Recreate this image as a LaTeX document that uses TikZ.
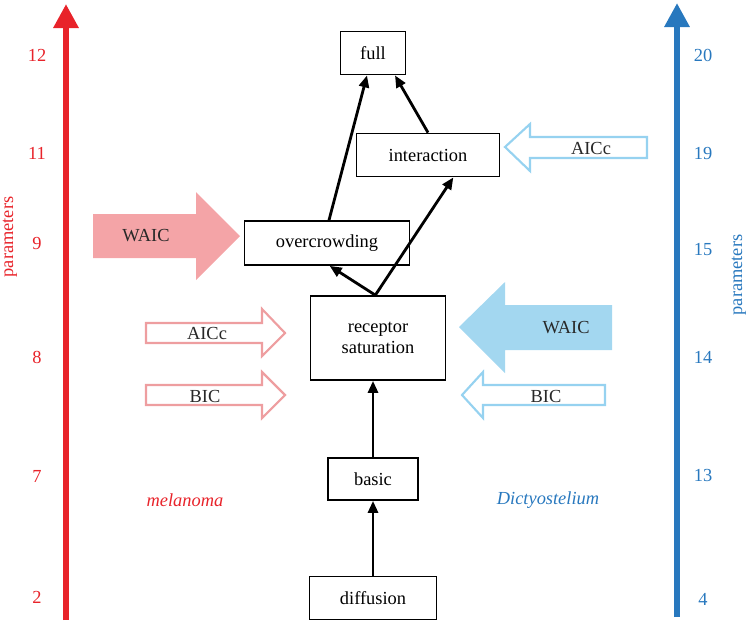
\documentclass[tikz,border=0pt]{standalone}
\usepackage{fontspec}
\setmainfont{Liberation Serif}
\usetikzlibrary{arrows.meta}

\definecolor{melred}{RGB}{232,35,42}
\definecolor{dictyblue}{RGB}{40,120,190}
\definecolor{palered}{RGB}{244,164,167}
\definecolor{paleblue}{RGB}{163,215,240}
\definecolor{linered}{RGB}{238,158,160}
\definecolor{lineblue}{RGB}{150,210,240}
\definecolor{labelgray}{RGB}{40,40,40}

\tikzset{
  model/.style={draw, line width=1.3pt, inner sep=0pt, align=center},
  link/.style={-{Triangle[length=9pt,width=7.5pt]}, line width=2.1pt},
  axis/.style={line width=4.5pt, -{Triangle[length=18pt,width=18pt]}},
  hollow/.style={line width=1.6pt, fill=white}
}

\begin{document}
\begin{tikzpicture}[x=0.75pt,y=-0.75pt,font=\fontsize{13.8}{16}\selectfont]
  \useasboundingbox (0,0) rectangle (748,622);

  % parameter axes
  \coordinate (redbot) at (66,620);
  \coordinate (redtop) at (66,4);
  \coordinate (bluebot) at (677,617);
  \coordinate (bluetop) at (677,3);
  \draw[axis, melred] (redbot) -- (redtop);
  \draw[axis, dictyblue] (bluebot) -- (bluetop);

  \begin{scope}[every node/.style={text=melred}]
    \node (r12) at (37,55)  {12};
    \node (r11) at (37,153) {11};
    \node (r9)  at (37,243) {9};
    \node (r8)  at (37,357) {8};
    \node (r7)  at (37,476) {7};
    \node (r2)  at (37,597) {2};
    \node[rotate=90, inner sep=1pt] (rpar) at (10,237) {parameters};
    \node[font=\fontsize{13.8}{16}\selectfont\itshape] (mel) at (185,500) {melanoma};
  \end{scope}

  \begin{scope}[every node/.style={text=dictyblue}]
    \node (b20) at (703,55)  {20};
    \node (b19) at (703,153) {19};
    \node (b15) at (703,250) {15};
    \node (b14) at (703,357) {14};
    \node (b13) at (703,475) {13};
    \node (b4)  at (703,599) {4};
    \node[rotate=90, inner sep=1pt] (bpar) at (739,275) {parameters};
    \node[font=\fontsize{13.8}{16}\selectfont\itshape] (dic) at (548,500) {Dictyostelium};
  \end{scope}

  % criteria arrows
  \fill[palered] (93,214) -- (196,214) -- (196,192) -- (240,236) -- (196,280) -- (196,258) -- (93,258) -- cycle;
  \draw[hollow, draw=linered] (146,323) -- (262,323) -- (262,309) -- (285,333) -- (262,356) -- (262,343) -- (146,343) -- cycle;
  \draw[hollow, draw=linered] (146,385) -- (262,385) -- (262,372) -- (285,395) -- (262,418) -- (262,405) -- (146,405) -- cycle;
  \fill[paleblue] (612,305) -- (505,305) -- (505,282) -- (459,327) -- (505,373) -- (505,350) -- (612,350) -- cycle;
  \draw[hollow, draw=lineblue] (605,385) -- (483,385) -- (483,372) -- (462,395) -- (483,418) -- (483,405) -- (605,405) -- cycle;
  \draw[hollow, draw=lineblue] (647,137) -- (530,137) -- (530,124) -- (505,147) -- (530,171) -- (530,158) -- (647,158) -- cycle;

  \begin{scope}[every node/.style={text=labelgray}]
    \node (lwaic) at (146,236) {WAIC};
    \node (laicc) at (207,333) {AICc};
    \node (lbic)  at (205,396) {BIC};
    \node (rwaic) at (566,328) {WAIC};
    \node (rbic)  at (546,396) {BIC};
    \node (raicc) at (591,148) {AICc};
  \end{scope}

  % models
  \node[model, minimum width=48.8pt, minimum height=32.3pt] (full) at (373,53) {full};
  \node[model, minimum width=107.3pt, minimum height=32.3pt] (inter) at (428,155) {interaction};
  \node[model, minimum width=123.8pt, minimum height=33pt] (over) at (327,243) {overcrowding};
  \node[model, minimum width=101.3pt, minimum height=63pt] (rec) at (378,338) {receptor\\saturation};
  \node[model, minimum width=67.5pt, minimum height=31.5pt] (basic) at (373,479) {basic};
  \node[model, minimum width=95.3pt, minimum height=32.3pt] (diff) at (373,598) {diffusion};

  \draw[link] (diff) -- (basic);
  \draw[link] (basic.north) -- (basic.north |- rec.south);
  \draw[link] ([xshift=-2pt]rec.north) -- ([xshift=2pt]over.south);
  \draw[link] ([xshift=-2pt]rec.north) -- ([xshift=19pt]inter.south);
  \draw[link] ([xshift=1.5pt]over.north) -- ([xshift=-4.5pt]full.south);
  \draw[link] (inter.north) -- ([xshift=16.5pt]full.south);
\end{tikzpicture}
\end{document}
